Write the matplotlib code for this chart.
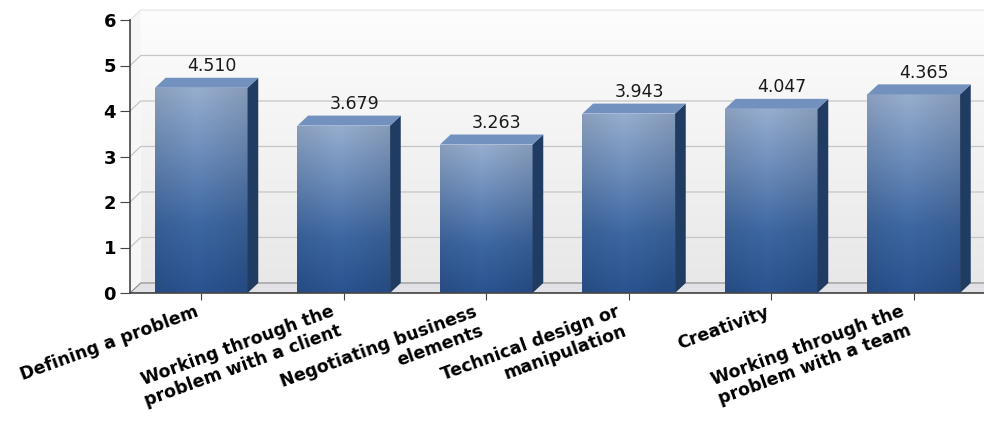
import numpy as np
import matplotlib.pyplot as plt
from matplotlib.patches import Polygon
from matplotlib.colors import LinearSegmentedColormap

categories = [
    "Defining a problem",
    "Working through the\nproblem with a client",
    "Negotiating business\nelements",
    "Technical design or\nmanipulation",
    "Creativity",
    "Working through the\nproblem with a team",
]
scores = [4.510, 3.679, 3.263, 3.943, 4.047, 4.365]
y_ticks = [0, 1, 2, 3, 4, 5, 6]

# fake 3d depth, in data units
DX = 0.075
DY = 0.22
BAR_W = 0.65

face_cmap = LinearSegmentedColormap.from_list(
    "face", ["#2a5390", "#3e68a3", "#6b8cbb", "#97aecf"])
wall_cmap = LinearSegmentedColormap.from_list("wall", ["#e8e8e8", "#fdfdfd"])


def face_gradient(n=120, m=40):
    t = np.linspace(0, 1, n)[:, None]
    u = np.linspace(0, 1, m)[None, :]
    rgb = face_cmap(np.repeat(t, m, axis=1))[..., :3]
    # a little darker at the left and right edges
    shade = 1 - 0.10 * np.abs(u - 0.45) * 2
    return rgb * shade[..., None]


fig = plt.figure(figsize=(9.84, 4.30), dpi=100)
ax = fig.add_axes([130 / 984, 137 / 430, 855 / 984, 273 / 430])
x = np.arange(len(categories))
x0, x1 = -0.5, len(categories) - 0.5
ytop = y_ticks[-1]

# back wall, left wall and floor
wall = ax.imshow(np.linspace(0, 1, 100)[:, None], cmap=wall_cmap, origin="lower",
                 extent=[x0 + DX, x1 + DX, DY, ytop + DY], aspect="auto", zorder=0)
wall.set_clip_on(False)
ax.add_patch(Polygon([(x0, 0), (x0 + DX, DY), (x0 + DX, ytop + DY), (x0, ytop)],
                     closed=True, fc="#f6f6f6", ec="none", zorder=0.5, clip_on=False))
ax.add_patch(Polygon([(x0, 0), (x0 + DX, DY), (x1 + DX, DY), (x1, 0)],
                     closed=True, fc="#e2e2e6", ec="#8a8a8a", lw=0.8, zorder=1))

for yv in y_ticks[1:]:
    col = "#e6e6e6" if yv == ytop else "#c6c6c6"
    ax.plot([x0, x0 + DX, x1 + DX], [yv, yv + DY, yv + DY], color=col,
            lw=0.9, zorder=1, clip_on=False)

bars = ax.bar(x, scores, width=BAR_W, color="none", edgecolor="none", zorder=3)
grad = face_gradient()
for bar, v in zip(bars, scores):
    bx0 = bar.get_x()
    bx1 = bx0 + bar.get_width()
    h = bar.get_height()
    im = ax.imshow(grad, origin="lower", extent=[bx0, bx1, 0, h],
                   aspect="auto", zorder=3)
    im.set_clip_path(bar)
    ax.add_patch(Polygon([(bx1, 0), (bx1 + DX, DY), (bx1 + DX, h + DY), (bx1, h)],
                         closed=True, fc="#203c63", ec="none", zorder=3))
    ax.add_patch(Polygon([(bx0, h), (bx0 + DX, h + DY), (bx1 + DX, h + DY), (bx1, h)],
                         closed=True, fc="#7391bf", ec="none", zorder=3))
    ax.text(bar.get_x() + bar.get_width() / 2 + DX, h + DY + 0.06, f"{v:.3f}",
            ha="center", va="bottom", fontsize=12.5, color="#1a1a1a", zorder=4)

ax.set_xlim(x0, x1)
ax.set_ylim(0, ytop)
ax.set_yticks(y_ticks)
ax.set_yticklabels([str(t) for t in y_ticks], fontsize=13, fontweight="bold")
ax.set_xticks(x)
ax.set_xticklabels(categories, rotation=20, ha="right", fontsize=12.5,
                   fontweight="bold", multialignment="right", linespacing=1.15)
ax.tick_params(axis="y", length=7, color="#444444", pad=3)
ax.tick_params(axis="x", length=5, color="#444444", pad=2)
ax.set_facecolor("white")
for side in ("top", "right"):
    ax.spines[side].set_visible(False)
for side in ("left", "bottom"):
    ax.spines[side].set_color("#444444")
    ax.spines[side].set_linewidth(1.2)
    ax.spines[side].set_zorder(5)

fig.savefig("out.png", dpi=100)
